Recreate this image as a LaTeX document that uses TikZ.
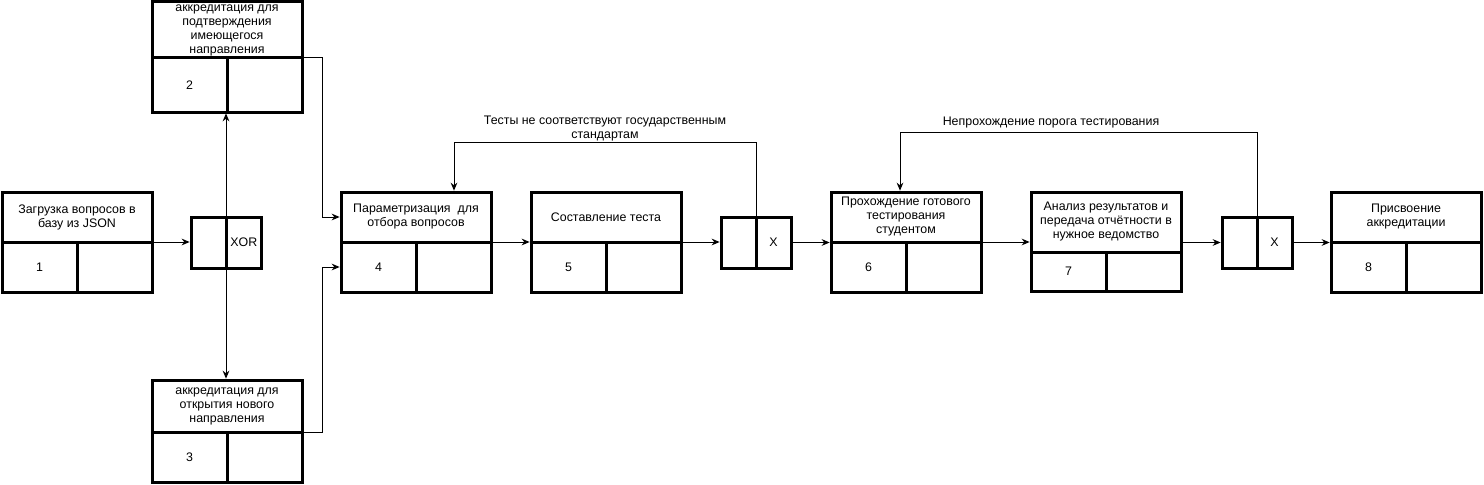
\documentclass[tikz,border=0pt]{standalone}
\usepackage{fontspec}
\setmainfont{Liberation Sans}
\usetikzlibrary{arrows.meta,positioning}

\tikzset{
  headbox/.style={draw,line width=2.25pt,minimum width=112.5pt,inner sep=0.5pt,outer sep=0pt,align=center,anchor=north west},
  cellbox/.style={draw,line width=2.25pt,minimum width=56.25pt,minimum height=37.5pt,outer sep=0pt},
  gatebox/.style={draw,line width=2.25pt,minimum width=26.25pt,minimum height=38.25pt,outer sep=0pt},
  flow/.style={-{Stealth[length=6pt,width=5pt]},line width=0.75pt},
}

\begin{document}
\begin{tikzpicture}[x=0.75pt,y=-0.75pt,shorten >=1pt,font=\fontsize{9.3}{10.5}\selectfont]
		\useasboundingbox (0,0) rectangle (1484,485);
		% boxes
		\node[headbox,minimum height=37.5pt](t1) at (2,192) {Загрузка вопросов в\\базу из JSON};
		\node[cellbox,anchor=north west](n1) at (t1.south west) {1};
		\node[cellbox](e1)[right=0pt of n1] {};
		\node[headbox,minimum height=42pt](t2) at (152,2) {аккредитация для\\подтверждения\\имеющегося\\направления};
		\node[cellbox,minimum height=40.5pt,anchor=north west](n2) at (t2.south west) {2};
		\node[cellbox,minimum height=40.5pt](e2)[right=0pt of n2] {};
		\node[headbox,minimum height=39pt](t3) at (152,380) {аккредитация для\\открытия нового\\направления};
		\node[cellbox,anchor=north west](n3) at (t3.south west) {3};
		\node[cellbox](e3)[right=0pt of n3] {};
		\node[headbox,minimum height=37.5pt](t4) at (341,192) {Параметризация\ \ для\\отбора вопросов};
		\node[cellbox,anchor=north west](n4) at (t4.south west) {4};
		\node[cellbox](e4)[right=0pt of n4] {};
		\node[headbox,minimum height=37.5pt](t5) at (531,192) {Составление теста};
		\node[cellbox,anchor=north west](n5) at (t5.south west) {5};
		\node[cellbox](e5)[right=0pt of n5] {};
		\node[headbox,minimum height=37.5pt](t6) at (831,192) {Прохождение готового\\тестирования\\студентом};
		\node[cellbox,anchor=north west](n6) at (t6.south west) {6};
		\node[cellbox](e6)[right=0pt of n6] {};
		\node[headbox,minimum height=45pt](t7) at (1031,192) {Анализ результатов и\\передача отчётности в\\нужное ведомство};
		\node[cellbox,minimum height=29.25pt,anchor=north west](n7) at (t7.south west) {7};
		\node[cellbox,minimum height=29.25pt](e7)[right=0pt of n7] {};
		\node[headbox,minimum height=37.5pt](t8) at (1331,192) {Присвоение\\аккредитации};
		\node[cellbox,anchor=north west](n8) at (t8.south west) {8};
		\node[cellbox](e8)[right=0pt of n8] {};
		% junctions
		\node[gatebox,anchor=north west](xa) at (191,217) {};
		\node[gatebox](xb)[right=0pt of xa] {XOR};
		\node[gatebox,anchor=north west](ya) at (721,217) {};
		\node[gatebox](yb)[right=0pt of ya] {X};
		\node[gatebox,anchor=north west](za) at (1222,217) {};
		\node[gatebox](zb)[right=0pt of za] {X};
		% labels
		\node[align=center](l1) at (605,128.5) {Тесты не соответствуют государственным\\стандартам};
		\node(l2) at (1051,123) {Непрохождение порога тестирования};
		\coordinate (f1) at (454,142);
		\coordinate (f2) at (900,132);
		% connectors
		\draw[flow] (t1.south east) -- (t1.south east -| xa.west);
		\draw[flow] (xa.north east) -- (xa.north east |- n2.south);
		\draw[flow] (xa.south east) -- (xa.south east |- t3.north);
		\draw[flow] (t2.south east) -- ++(15pt,0) |- (t4.west);
		\draw[flow] (t3.south east) -- ++(15pt,0) |- (n4.west);
		\draw[flow] (t4.south east) -- (t5.south west);
		\draw[flow] (t5.south east) -- (t5.south east -| ya.west);
		\draw[flow] (yb.east) -- (yb.east -| t6.west);
		\draw[flow] (t6.south east) -- (t6.south east -| t7.west);
		\draw[flow] (t7.east |- za.west) -- (za.west);
		\draw[flow] (zb.east) -- (zb.east -| t8.west);
		\draw[flow] (ya.north east) |- (f1) -- (f1 |- t4.north);
		\draw[flow] (za.north east) |- (f2) -- (f2 |- t6.north);
\end{tikzpicture}
\end{document}
